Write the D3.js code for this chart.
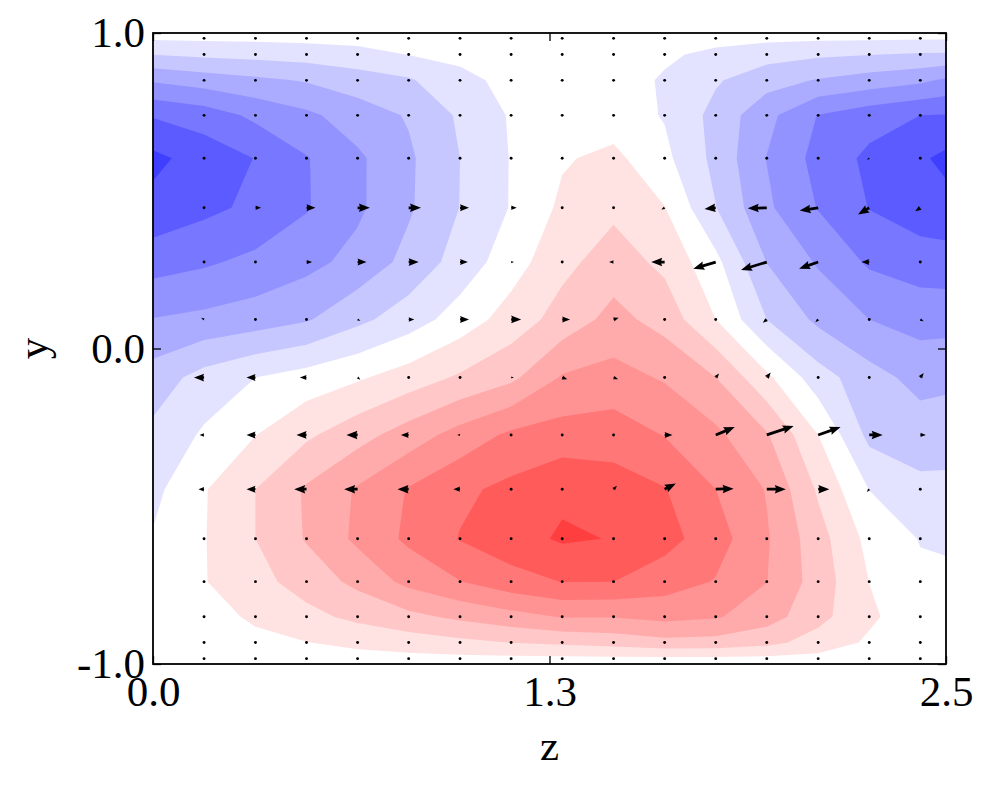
<!DOCTYPE html>
<html>
<head>
<meta charset="utf-8">
<script src="https://cdn.jsdelivr.net/npm/d3@7"></script>
<style>
  body { margin: 0; background: #fff; }
  svg text { font-family: "Liberation Serif", "Times New Roman", serif; fill: #000; }
</style>
</head>
<body>
<div id="chart"></div>
<script>
// grid coordinates of the field (z across, y from top wall to bottom wall)
const zGrid = [0, 0.161, 0.323, 0.484, 0.645, 0.806, 0.968, 1.129, 1.290, 1.452, 1.613, 1.774, 1.935, 2.097, 2.258, 2.419, 2.5];
const yGrid = [1, 0.983, 0.932, 0.850, 0.739, 0.603, 0.446, 0.274, 0.092, -0.092, -0.274, -0.446, -0.603, -0.739, -0.850, -0.932, -0.983, -1];

// field values, one row per yGrid entry, one column per zGrid entry
const field = [
  [0, 0, 0, 0, 0, 0, 0, 0, 0, 0, 0, 0, 0, 0, 0, 0, 0],
  [-0.39, -0.34, -0.32, -0.26, -0.2, -0.13, -0.07, -0.03, 0, 0, -0.08, -0.2, -0.28, -0.35, -0.38, -0.42, -0.42],
  [-1.48, -1.29, -1.19, -1.06, -0.83, -0.48, -0.28, -0.08, -0.02, -0.02, -0.35, -0.73, -1.12, -1.35, -1.47, -1.6, -1.62],
  [-3.39, -3.03, -2.71, -2.42, -2.0, -1.62, -0.75, -0.25, -0.05, -0.05, -0.61, -1.39, -2.1, -2.57, -2.94, -3.3, -3.66],
  [-5.42, -5.04, -4.28, -3.71, -3.0, -2.41, -1.35, -0.4, 0, 0, -0.57, -1.82, -3.21, -4.54, -5.08, -5.5, -5.55],
  [-6.75, -6.07, -5.47, -4.56, -3.68, -2.66, -1.5, -0.45, 0.4, 0.75, -0.25, -1.78, -3.53, -4.83, -5.72, -6.35, -6.75],
  [-6.2, -5.74, -5.29, -4.58, -3.68, -2.63, -1.48, -0.44, 0.7, 1.28, 0.53, -1.47, -3.32, -4.55, -5.53, -6.05, -6.15],
  [-4.93, -4.64, -4.26, -3.8, -3.18, -2.19, -1.09, 0.04, 1.22, 1.98, 1.26, -0.22, -2.52, -3.61, -4.65, -5.0, -5.07],
  [-3.46, -3.26, -3.0, -2.6, -1.75, -0.99, -0.05, 0.94, 1.9, 2.83, 2.11, 0.5, -1.5, -2.72, -3.5, -3.87, -3.86],
  [-2.04, -1.12, -0.5, -0.07, 0.37, 0.97, 1.64, 2.27, 3.6, 3.85, 3.4, 2.5, 0.71, -1.06, -2.11, -2.84, -2.74],
  [-1.25, -0.36, 0.48, 1.33, 2.12, 2.98, 3.9, 4.7, 4.93, 5.04, 4.46, 3.72, 2.6, 0.5, -1.77, -1.99, -1.94],
  [-0.77, 0.42, 1.5, 2.63, 3.61, 4.57, 5.3, 5.75, 6.3, 5.95, 5.55, 4.5, 3.44, 1.36, -0.52, -1.26, -1.26],
  [-0.42, 0.45, 1.5, 2.58, 3.71, 4.7, 5.55, 6.09, 6.63, 6.46, 5.85, 4.95, 3.6, 1.9, 0.2, -0.55, -0.6],
  [-0.28, 0.45, 1.18, 1.92, 2.76, 3.78, 4.47, 5.13, 5.52, 5.5, 4.98, 4.44, 3.52, 2.05, 0.49, -0.3, -0.35],
  [-0.18, 0.11, 0.66, 1.22, 1.74, 2.24, 2.71, 3.14, 3.56, 3.55, 3.8, 3.6, 2.95, 1.82, 0.67, -0.1, -0.15],
  [-0.1, 0.05, 0.25, 0.48, 0.74, 1.0, 1.26, 1.52, 1.7, 1.9, 2.2, 2.15, 1.8, 1.07, 0.35, -0.02, -0.05],
  [-0.03, 0.02, 0.06, 0.12, 0.17, 0.22, 0.25, 0.28, 0.3, 0.3, 0.3, 0.3, 0.28, 0.22, 0.1, 0.0, -0.01],
  [0, 0, 0, 0, 0, 0, 0, 0, 0, 0, 0, 0, 0, 0, 0, 0, 0]
];

// contour levels and the colour of each band (lowest band first)
const bandLevels = [-6.5, -5.5, -4.5, -3.5, -2.5, -1.5, -0.5, 0.5, 1.5, 2.5, 3.5, 4.5, 5.5, 6.5];
const bandColors = ['#3f3fff', '#5b5bff', '#7777ff', '#9393ff', '#ababff', '#c7c7ff', '#e3e3ff', '#ffffff',
                    '#ffe3e3', '#ffc7c7', '#ffabab', '#ff9393', '#ff7777', '#ff5b5b', '#ff3f3f'];

// velocity arrows on the interior grid points (rows yGrid[1..16], columns zGrid[1..15])
const quiverU = [
  [0, 0, 0, 0, 0, 0, 0, 0, 0, 0, 0, 0, 0, 0, 0],
  [0, 0, 0, 0, 0, 0, 0, 0, 0, 0, 0, 0, 0, 0, 0],
  [0, 0, 0, 0, 0, 0, 0, 0, 0, 0, 0, 0, 0, 0, 0],
  [0, 0, 0, 0, 0, 0, 0, 0, 0, 0, 0, 0, 0, 0, 0],
  [0, 0.07, 0.07, 0.07, 0.07, 0.06, 0, 0, 0, 0, 0, 0, -0.06, -0.08, -0.06],
  [0.08, 0.2, 0.32, 0.44, 0.44, 0.32, 0.2, 0, 0, -0.12, -0.4, -0.68, -0.66, -0.4, -0.18],
  [0, 0.08, 0.2, 0.32, 0.36, 0.28, 0.1, 0, -0.16, -0.48, -0.8, -0.92, -0.68, -0.28, -0.08],
  [-0.1, 0, 0, 0.1, 0.2, 0.32, 0.36, 0.28, 0.18, 0.06, 0.04, -0.14, -0.1, 0, 0.12],
  [-0.36, -0.32, -0.24, 0.1, 0, 0, 0.1, 0.18, 0.16, 0.06, 0.12, 0.14, 0.04, 0.04, 0.12],
  [-0.16, -0.32, -0.36, -0.4, -0.28, -0.1, 0, 0, 0.06, 0.28, 0.68, 0.96, 0.8, 0.48, 0.2],
  [-0.2, -0.32, -0.44, -0.48, -0.4, -0.24, -0.06, 0, 0.12, 0.4, 0.64, 0.68, 0.4, -0.08, 0],
  [0, 0, -0.06, -0.06, -0.06, 0, 0, 0, 0.06, 0.06, 0.06, 0, 0, 0, 0],
  [0, 0, 0, 0, 0, 0, 0, 0, 0, 0, 0, 0, 0, 0, 0],
  [0, 0, 0, 0, 0, 0, 0, 0, 0, 0, 0, 0, 0, 0, 0],
  [0, 0, 0, 0, 0, 0, 0, 0, 0, 0, 0, 0, 0, 0, 0],
  [0, 0, 0, 0, 0, 0, 0, 0, 0, 0, 0, 0, 0, 0, 0]
];
const quiverW = [
  [0, 0, 0, 0, 0, 0, 0, 0, 0, 0, 0, 0, 0, 0, 0],
  [0, 0, 0, 0, 0, 0, 0, 0, 0, 0, 0, 0, 0, 0, 0],
  [0, 0, 0, 0, 0, 0, 0, 0, 0, 0, 0, 0, 0, 0, 0],
  [0, 0, 0, 0, 0, 0, 0, 0, 0, 0, 0, 0, 0, 0, 0],
  [0, 0, 0, 0, 0, 0, 0, 0, 0, 0, 0, 0, 0, -0.05, -0.04],
  [0, 0, 0, 0, 0, 0, 0, 0, 0, -0.06, -0.04, -0.02, -0.1, -0.24, -0.12],
  [0, 0, 0, 0, 0, 0, 0, 0, 0, 0, -0.24, -0.28, -0.24, 0, 0],
  [0.06, 0, 0, -0.05, 0, 0, 0, 0, 0.06, 0, 0, -0.12, -0.1, 0, -0.06],
  [0, 0, 0, -0.08, 0, 0, 0, -0.06, -0.06, 0, 0.14, 0.18, 0, 0, 0.16],
  [0, 0, 0, 0, 0, 0, 0, 0, 0, 0, 0.28, 0.32, 0.28, 0, 0],
  [0, 0, 0, 0, 0, 0, 0, 0, 0.12, 0.2, 0.02, 0, 0, -0.1, 0],
  [0, 0, 0, 0, 0, 0, 0, 0, 0, 0, 0, 0, 0, 0, 0],
  [0, 0, 0, 0, 0, 0, 0, 0, 0, 0, 0, 0, 0, 0, 0],
  [0, 0, 0, 0, 0, 0, 0, 0, 0, 0, 0, 0, 0, 0, 0],
  [0, 0, 0, 0, 0, 0, 0, 0, 0, 0, 0, 0, 0, 0, 0],
  [0, 0, 0, 0, 0, 0, 0, 0, 0, 0, 0, 0, 0, 0, 0]
];

const xTickValues = [0, 1.25, 2.5];
const xTickLabels = ['0.0', '1.3', '2.5'];
const yTickValues = [-1, 0, 1];
const yTickLabels = ['-1.0', '0.0', '1.0'];

class ContourQuiver {

    constructor(_config) {
        this.config = {
            parentElement: _config.parentElement,
            containerWidth: 990,
            containerHeight: 786,
            margin: {top: 33, right: 44, bottom: 122, left: 153},
            tickLength: 8,
            fontSize: 43,
            pxPerUnit: 28,
            dotRadius: 1.45,
            arrow: {shaftWidth: 2.8, headWidth: 8.5, headLength: 11, headAxisLength: 10}
        };
        this.initVis();
    }

    initVis() {
        let vis = this;

        vis.width = vis.config.containerWidth - vis.config.margin.left - vis.config.margin.right;
        vis.height = vis.config.containerHeight - vis.config.margin.top - vis.config.margin.bottom;

        vis.xScale = d3.scaleLinear().domain([0, 2.5]).range([0, vis.width]);
        vis.yScale = d3.scaleLinear().domain([-1, 1]).range([vis.height, 0]);

        // d3.contours puts value i at i + 0.5; map that back onto the (non uniform) grid
        vis.zFromIndex = d3.scaleLinear().domain(zGrid.map((d, i) => i + 0.5)).range(zGrid).clamp(true);
        vis.yFromIndex = d3.scaleLinear().domain(yGrid.map((d, i) => i + 0.5)).range(yGrid).clamp(true);

        vis.colorScale = d3.scaleThreshold().domain(bandLevels).range(bandColors);

        vis.svg = d3.select(vis.config.parentElement).append('svg')
            .attr('width', vis.config.containerWidth)
            .attr('height', vis.config.containerHeight);

        vis.chart = vis.svg.append('g')
            .attr('transform', `translate(${vis.config.margin.left},${vis.config.margin.top})`);

        vis.contourG = vis.chart.append('g').attr('class', 'contours');
        vis.quiverG = vis.chart.append('g').attr('class', 'quiver');
        vis.axisG = vis.chart.append('g').attr('class', 'axes');

        vis.renderVis();
    }

    arrowPoints(len) {
        const a = this.config.arrow;
        // short arrows shrink as a whole, like matplotlib's quiver
        const s = len < a.headLength ? len / a.headLength : 1;
        const L = len;
        const sw = a.shaftWidth / 2 * s, hw = a.headWidth / 2 * s;
        const hl = a.headLength * s, ha = a.headAxisLength * s;
        return [[0, -sw], [L - ha, -sw], [L - hl, -hw], [L, 0], [L - hl, hw], [L - ha, sw], [0, sw]];
    }

    renderVis() {
        let vis = this;

        // filled contours
        const contours = d3.contours()
            .size([zGrid.length, yGrid.length])
            .thresholds(bandLevels)(field.flat());

        const proj = d3.geoTransform({
            point: function (x, y) {
                this.stream.point(vis.xScale(vis.zFromIndex(x)), vis.yScale(vis.yFromIndex(y)));
            }
        });
        const path = d3.geoPath(proj);

        vis.contourG.append('rect')
            .attr('width', vis.width)
            .attr('height', vis.height)
            .attr('fill', bandColors[0]);

        vis.contourG.selectAll('.band')
            .data(contours)
            .join('path')
            .attr('class', 'band')
            .attr('d', path)
            .attr('fill', d => vis.colorScale(d.value))
            .attr('fill-rule', 'evenodd');

        // quiver
        const arrows = [];
        quiverU.forEach((row, r) => row.forEach((u, c) => {
            arrows.push({z: zGrid[c + 1], y: yGrid[r + 1], u: u, w: quiverW[r][c]});
        }));

        arrows.forEach(d => {
            const dx = d.u * vis.config.pxPerUnit;
            const dy = -d.w * vis.config.pxPerUnit;
            d.len = Math.hypot(dx, dy);
            d.angle = Math.atan2(dy, dx) * 180 / Math.PI;
            d.px = vis.xScale(d.z);
            d.py = vis.yScale(d.y);
        });

        vis.quiverG.selectAll('.dot')
            .data(arrows.filter(d => d.len < 2.5))
            .join('circle')
            .attr('class', 'dot')
            .attr('cx', d => d.px)
            .attr('cy', d => d.py)
            .attr('r', vis.config.dotRadius)
            .attr('fill', '#000');

        vis.quiverG.selectAll('.arrow')
            .data(arrows.filter(d => d.len >= 2.5))
            .join('polygon')
            .attr('class', 'arrow')
            .attr('points', d => vis.arrowPoints(d.len).map(p => p.join(',')).join(' '))
            .attr('transform', d => `translate(${d.px},${d.py}) rotate(${d.angle})`)
            .attr('fill', '#000');

        // axes, ticks pointing inwards on all four sides
        const tl = vis.config.tickLength;
        const xBottom = d3.axisBottom(vis.xScale).tickValues(xTickValues)
            .tickFormat((d, i) => xTickLabels[i]).tickSizeInner(-tl).tickSizeOuter(0).tickPadding(11);
        const xTop = d3.axisTop(vis.xScale).tickValues(xTickValues)
            .tickFormat('').tickSizeInner(-tl).tickSizeOuter(0);
        const yLeft = d3.axisLeft(vis.yScale).tickValues(yTickValues)
            .tickFormat((d, i) => yTickLabels[i]).tickSizeInner(-tl).tickSizeOuter(0).tickPadding(8);
        const yRight = d3.axisRight(vis.yScale).tickValues(yTickValues)
            .tickFormat('').tickSizeInner(-tl).tickSizeOuter(0);

        const style = g => {
            g.select('.domain').remove();
            g.selectAll('line').attr('stroke', '#000').attr('stroke-width', 1.3);
            g.attr('font-size', null).attr('font-family', null);
            g.selectAll('text').style('font-size', vis.config.fontSize + 'px');
        };

        vis.axisG.append('g').attr('transform', `translate(0,${vis.height})`).call(xBottom).call(style);
        vis.axisG.append('g').call(xTop).call(style);
        vis.axisG.append('g').call(yLeft).call(style);
        vis.axisG.append('g').attr('transform', `translate(${vis.width},0)`).call(yRight).call(style);

        vis.axisG.append('rect')
            .attr('width', vis.width)
            .attr('height', vis.height)
            .attr('fill', 'none')
            .attr('stroke', '#000')
            .attr('stroke-width', 1.8);

        vis.axisG.append('text')
            .attr('x', vis.width / 2)
            .attr('y', vis.height + 96)
            .attr('text-anchor', 'middle')
            .style('font-size', vis.config.fontSize + 'px')
            .text('z');

        vis.axisG.append('text')
            .attr('transform', `translate(${-106},${vis.height / 2}) rotate(-90)`)
            .attr('text-anchor', 'middle')
            .style('font-size', vis.config.fontSize + 'px')
            .text('y');
    }
}

new ContourQuiver({parentElement: '#chart'});
</script>
</body>
</html>
